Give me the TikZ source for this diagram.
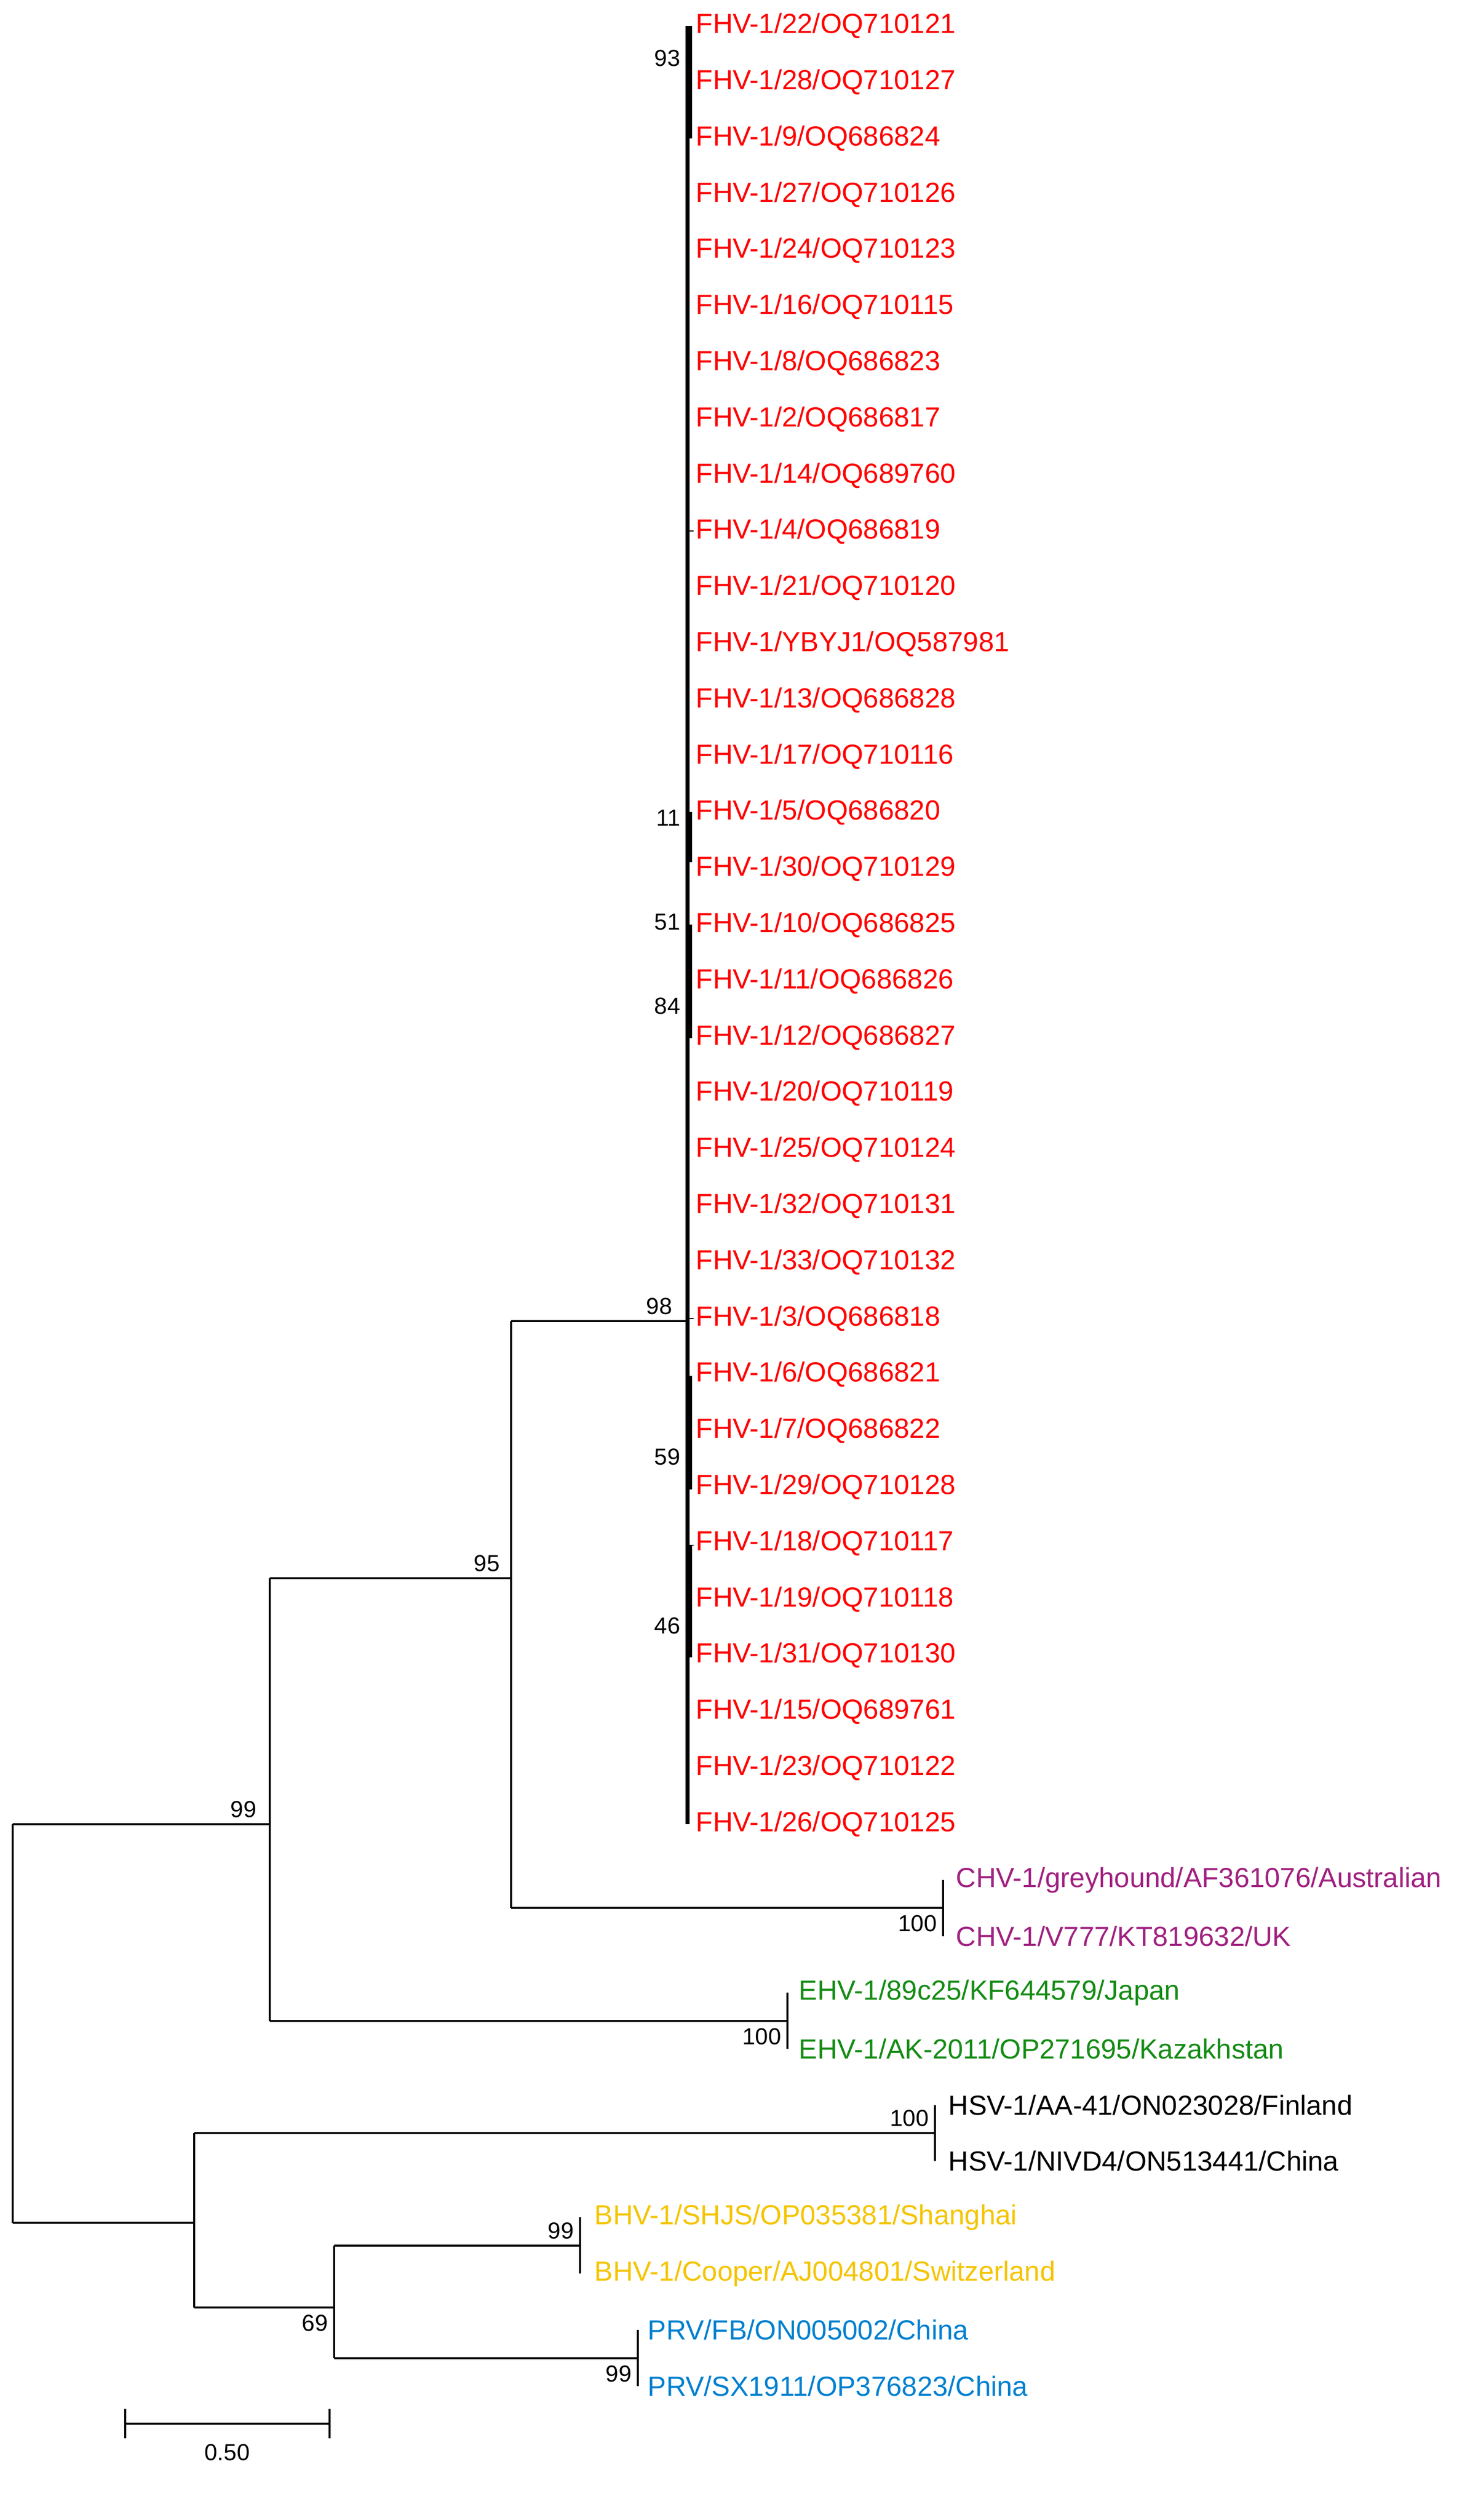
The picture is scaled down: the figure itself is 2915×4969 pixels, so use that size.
\documentclass[tikz,border=0pt]{standalone}
\usepackage{fontspec}
\setmainfont{Liberation Sans}
\definecolor{fhv}{RGB}{255,0,0}
\definecolor{chv}{RGB}{160,32,128}
\definecolor{ehv}{RGB}{20,140,20}
\definecolor{bhv}{RGB}{245,196,0}
\definecolor{prv}{RGB}{0,128,208}
\begin{document}
\begin{tikzpicture}[x=0.01cm,y=-0.01cm,
  br/.style={line width=2.2pt},
  lf/.style={anchor=west,font=\fontsize{15.5}{17}\selectfont,inner sep=0pt},
  bs/.style={font=\fontsize{13}{15}\selectfont,inner sep=1pt}]
\useasboundingbox (0,0) rectangle (2915,4969);
\foreach \i/\a/\b in {0/22/OQ710121,1/28/OQ710127,2/9/OQ686824,3/27/OQ710126,4/24/OQ710123,5/16/OQ710115,6/8/OQ686823,7/2/OQ686817,8/14/OQ689760,9/4/OQ686819,10/21/OQ710120,11/YBYJ1/OQ587981,12/13/OQ686828,13/17/OQ710116,14/5/OQ686820,15/30/OQ710129,16/10/OQ686825,17/11/OQ686826,18/12/OQ686827,19/20/OQ710119,20/25/OQ710124,21/32/OQ710131,22/33/OQ710132,23/3/OQ686818,24/6/OQ686821,25/7/OQ686822,26/29/OQ710128,27/18/OQ710117,28/19/OQ710118,29/31/OQ710130,30/15/OQ689761,31/23/OQ710122,32/26/OQ710125}
  {\node[lf,text=fhv] (f\i) at (1372,51+\i*110.8) {FHV-1/\a/\b};}
% FHV cluster
\draw[br] (1356,51) -- (1356,3597);
\draw[br] (1361,51) -- (1361,273);
\draw[br] (1361,1601) -- (1361,1700);
\draw[br] (1361,1823) -- (1361,2047);
\draw[br] (1361,2713) -- (1361,2937);
\draw[br] (1361,3047) -- (1361,3268);
\draw (1356,1047) -- (1368,1047);
\draw (1356,2600) -- (1368,2600);
\draw (1356,3047) -- (1368,3047);
\node[bs,anchor=east] (b93) at (1346,115) {93};
\node[bs,anchor=east] (b11) at (1346,1613) {11};
\node[bs,anchor=east] (b51) at (1346,1818) {51};
\node[bs,anchor=east] (b84) at (1346,1984) {84};
\node[bs,anchor=east] (b59) at (1346,2873) {59};
\node[bs,anchor=east] (b46) at (1346,3206) {46};
% other leaves
\node[lf,text=chv] (c1) at (1885,3707) {CHV-1/greyhound/AF361076/Australian};
\node[lf,text=chv] (c2) at (1885,3818) {CHV-1/V777/KT819632/UK};
\node[lf,text=ehv] (e1) at (1575,3929) {EHV-1/89c25/KF644579/Japan};
\node[lf,text=ehv] (e2) at (1575,4040) {EHV-1/AK-2011/OP271695/Kazakhstan};
\node[lf] (h1) at (1870,4151) {HSV-1/AA-41/ON023028/Finland};
\node[lf] (h2) at (1870,4261) {HSV-1/NIVD4/ON513441/China};
\node[lf,text=bhv] (bh1) at (1172,4372) {BHV-1/SHJS/OP035381/Shanghai};
\node[lf,text=bhv] (bh2) at (1172,4483) {BHV-1/Cooper/AJ004801/Switzerland};
\node[lf,text=prv] (p1) at (1277,4594) {PRV/FB/ON005002/China};
\node[lf,text=prv] (p2) at (1277,4705) {PRV/SX1911/OP376823/China};
% tree
\begin{scope}[line width=1.3pt]
\draw (1008,2605) -- (1356,2605);
\draw (1860,3707) -- (1860,3818);
\draw (1008,3762) -- (1860,3762);
\draw (1008,2605) -- (1008,3762);
\draw (1553,3929) -- (1553,4040);
\draw (532,3985) -- (1553,3985);
\draw (532,3112) -- (1008,3112);
\draw (532,3112) -- (532,3985);
\draw (25,3597) -- (532,3597);
\draw (1844,4151) -- (1844,4261);
\draw (383,4206) -- (1844,4206);
\draw (1144,4372) -- (1144,4483);
\draw (659,4428) -- (1144,4428);
\draw (1258,4594) -- (1258,4705);
\draw (659,4650) -- (1258,4650);
\draw (659,4428) -- (659,4650);
\draw (383,4550) -- (659,4550);
\draw (383,4206) -- (383,4550);
\draw (25,4383) -- (383,4383);
\draw (25,3597) -- (25,4383);
\end{scope}
\node[bs,anchor=south east] (n99a) at (510,3588) {99};
\node[bs,anchor=south east] (n95) at (990,3103) {95};
\node[bs,anchor=south east] (n98) at (1330,2596) {98};
\node[bs,anchor=north east] (n100c) at (1852,3772) {100};
\node[bs,anchor=north east] (n100e) at (1545,3995) {100};
\node[bs,anchor=south east] (n100h) at (1836,4197) {100};
\node[bs,anchor=south east] (n99b) at (1136,4419) {99};
\node[bs,anchor=north east] (n69) at (651,4560) {69};
\node[bs,anchor=north east] (n99c) at (1250,4660) {99};
% scale bar
\coordinate (s1) at (247,4779); \coordinate (s2) at (650,4779);
\draw[line width=1.3pt] (s1) -- (s2);
\draw[line width=1.3pt] (247,4750) -- (247,4808);
\draw[line width=1.3pt] (650,4750) -- (650,4808);
\node[bs,anchor=north] (sl) at (448,4815) {0.50};
\end{tikzpicture}
\end{document}
